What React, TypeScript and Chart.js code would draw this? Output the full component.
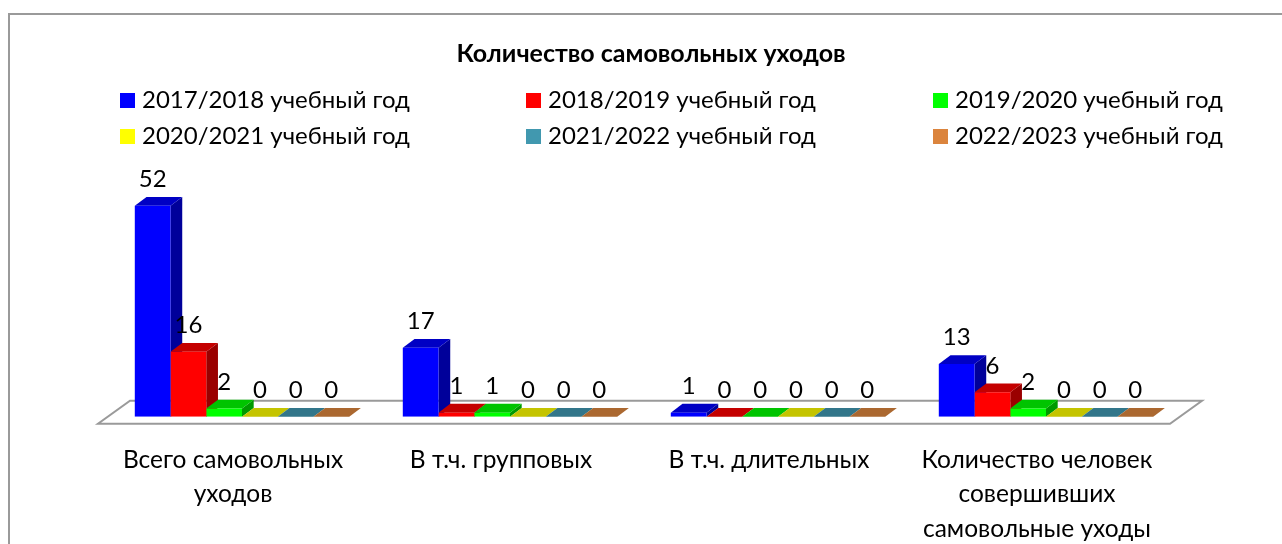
import React, { useEffect, useRef } from "react";
import { Chart, registerables } from "chart.js";

Chart.register(...registerables);

const categories: (string | string[])[] = [
  ["Всего самовольных", "уходов"],
  "В т.ч. групповых",
  "В т.ч. длительных",
  ["Количество человек", "совершивших", "самовольные уходы"],
];
const seriesLabels = [
  "2017/2018 учебный год",
  "2018/2019 учебный год",
  "2019/2020 учебный год",
  "2020/2021 учебный год",
  "2021/2022 учебный год",
  "2022/2023 учебный год",
];
const series2017 = [52, 17, 1, 13];
const series2018 = [16, 1, 0, 6];
const series2019 = [2, 1, 0, 2];
const series2020 = [0, 0, 0, 0];
const series2021 = [0, 0, 0, 0];
const series2022 = [0, 0, 0, 0];
const seriesValues = [series2017, series2018, series2019, series2020, series2021, series2022];
const frontColors = ["#0000ff", "#ff0000", "#00ff00", "#ffff00", "#4198af", "#db843d"];
const topColors = ["#0000c4", "#c40000", "#00c400", "#c4c400", "#32768a", "#ab6830"];
const sideColors = ["#00009a", "#9a0000", "#009a00", "#9a9a00", "#285f6e", "#8a5226"];

const FONT = "Lato, 'Open Sans', sans-serif";
const DX = 11.7;
const DY = 8.8;

const depthPlugin = {
  id: "depth3d",
  afterLayout(chart: any) {
    if (chart.titleBlock) {
      chart.titleBlock.left = 20;
      chart.titleBlock.right = 1282;
    }
  },
  beforeDatasetsDraw(chart: any) {
    const { ctx, chartArea, scales } = chart;
    const y0 = scales.y.getPixelForValue(0);
    // frame
    ctx.save();
    ctx.strokeStyle = "#9a9a9a";
    ctx.lineWidth = 2;
    ctx.beginPath();
    ctx.moveTo(9, 544);
    ctx.lineTo(9, 14);
    ctx.lineTo(1282, 14);
    ctx.stroke();
    // floor
    ctx.beginPath();
    ctx.moveTo(chartArea.left - 10, y0 + 7);
    ctx.lineTo(chartArea.right - 10, y0 + 7);
    ctx.lineTo(chartArea.right + 22, y0 - 16);
    ctx.lineTo(chartArea.left + 22, y0 - 16);
    ctx.closePath();
    ctx.fillStyle = "#ffffff";
    ctx.fill();
    ctx.stroke();
    // side and top faces, left to right
    const n = categories.length;
    for (let c = 0; c < n; c++) {
      chart.data.datasets.forEach((_: any, d: number) => {
        const bar = chart.getDatasetMeta(d).data[c];
        const half = bar.width / 2;
        const l = bar.x - half;
        const r = bar.x + half;
        const t = bar.y;
        const b = bar.base;
        ctx.fillStyle = sideColors[d];
        ctx.beginPath();
        ctx.moveTo(r, t);
        ctx.lineTo(r + DX, t - DY);
        ctx.lineTo(r + DX, b - DY);
        ctx.lineTo(r, b);
        ctx.closePath();
        if (b - t > 0.5) ctx.fill();
        ctx.fillStyle = topColors[d];
        ctx.beginPath();
        ctx.moveTo(l, t);
        ctx.lineTo(l + DX, t - DY);
        ctx.lineTo(r + DX, t - DY);
        ctx.lineTo(r, t);
        ctx.closePath();
        ctx.fill();
      });
    }
    ctx.restore();
  },
  afterDatasetsDraw(chart: any) {
    const { ctx } = chart;
    ctx.save();
    ctx.fillStyle = "#000000";
    ctx.font = `24px ${FONT}`;
    ctx.textAlign = "center";
    ctx.textBaseline = "middle";
    chart.data.datasets.forEach((ds: any, d: number) => {
      chart.getDatasetMeta(d).data.forEach((bar: any, i: number) => {
        ctx.fillText(String(ds.data[i]), bar.x, bar.y - 26.5);
      });
    });
    // legend
    const cols = [120, 526, 933];
    const rows = [100, 136];
    ctx.textAlign = "left";
    chart.data.datasets.forEach((ds: any, d: number) => {
      const x = cols[d % 3];
      const y = rows[Math.floor(d / 3)];
      ctx.fillStyle = frontColors[d];
      ctx.fillRect(x, y - 7, 15, 15);
      ctx.fillStyle = "#000000";
      ctx.fillText(ds.label, x + 22, y);
    });
    ctx.restore();
  },
};

export default function App() {
  const ref = useRef<HTMLCanvasElement>(null);
  useEffect(() => {
    document.body.style.margin = "0";
    const chart = new Chart(ref.current!, {
      type: "bar",
      data: {
        labels: categories,
        datasets: seriesValues.map((values, i) => ({
          label: seriesLabels[i],
          data: values,
          backgroundColor: frontColors[i],
          borderWidth: 0,
          barPercentage: 1,
          categoryPercentage: 0.8,
        })),
      },
      options: {
        animation: false,
        responsive: false,
        layout: { padding: { left: 108, right: 102, top: 0, bottom: 0 } },
        plugins: {
          legend: { display: false },
          tooltip: { enabled: false },
          title: {
            display: true,
            text: "Количество самовольных уходов",
            color: "#000",
            font: { family: FONT, size: 25, weight: "bold", lineHeight: 1.2 },
            padding: { top: 39.2, bottom: 104.2 },
          },
        },
        scales: {
          x: {
            grid: { display: false },
            border: { display: false },
            afterFit(scale: any) {
              scale.height = 127.3;
            },
            ticks: {
              color: "#000",
              maxRotation: 0,
              autoSkip: false,
              labelOffset: -9,
              padding: 18,
              font: { family: FONT, size: 24.5, lineHeight: 1.41 },
            },
          },
          y: {
            display: false,
            min: 0,
            max: 60,
          },
        },
      },
      plugins: [depthPlugin],
    } as any);
    return () => chart.destroy();
  }, []);
  return <canvas ref={ref} width={1282} height={544} style={{ display: "block" }} />;
}
